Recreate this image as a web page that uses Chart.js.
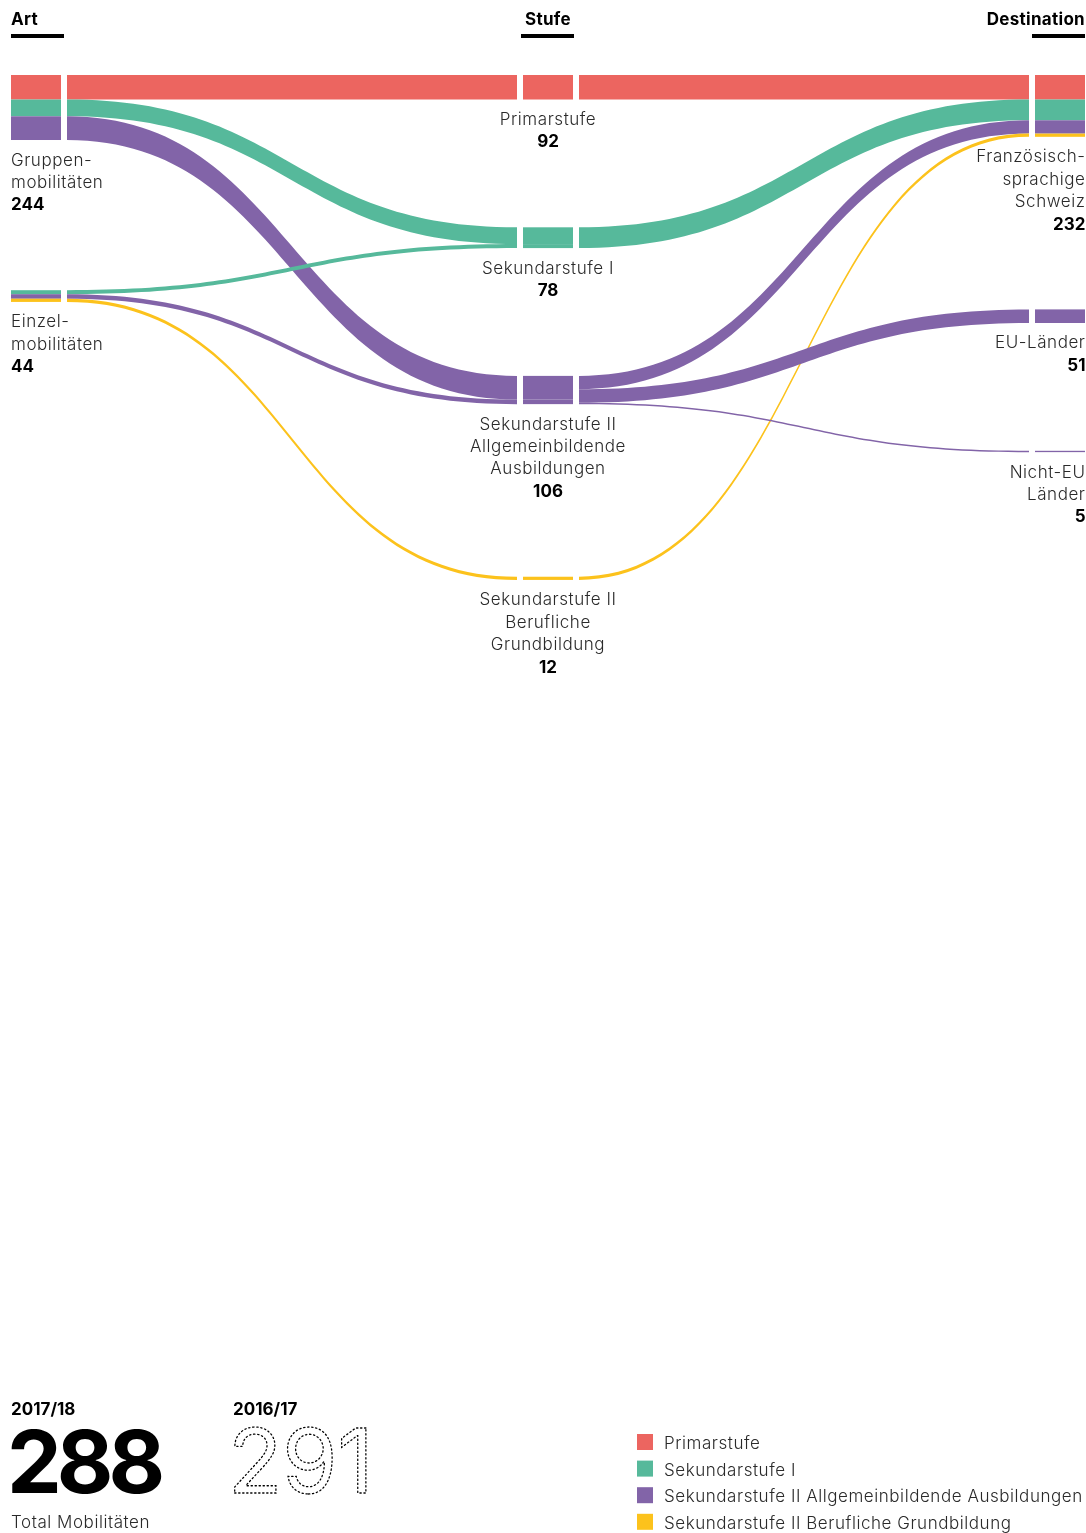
<!DOCTYPE html>
<html>
<head>
<meta charset="utf-8">
<script src="https://cdn.jsdelivr.net/npm/chart.js@4.4.1/dist/chart.umd.min.js"></script>
<style>
  body { margin: 0; background: #fff; }
  #page { position: relative; width: 1086px; height: 1533px; overflow: hidden; font-family: Inter, Roboto, sans-serif; }
  #sankey { position: absolute; left: 0; top: 75px; }
  #overlay { position: absolute; left: 0; top: 0; }
</style>
</head>
<body>
<div id="page">
  <canvas id="sankey" width="1086" height="625"></canvas>
  <svg id="overlay" width="1086" height="1533" xmlns="http://www.w3.org/2000/svg"></svg>
</div>
<script>
// node labels per column
var artNodes = ["Gruppen-\nmobilitäten", "Einzel-\nmobilitäten"];
var stufeNodes = ["Primarstufe", "Sekundarstufe I", "Sekundarstufe II\nAllgemeinbildende\nAusbildungen", "Sekundarstufe II\nBerufliche\nGrundbildung"];
var destNodes = ["Französisch-\nsprachige\nSchweiz", "EU-Länder", "Nicht-EU\nLänder"];
var columnTitles = ["Art", "Stufe", "Destination"];

// flows Art -> Stufe (one value per Stufe)
var gruppenFlows = [92, 63, 89, 0];
var einzelFlows = [0, 15, 17, 12];

// flows Stufe -> Destination (one value per Stufe)
var toFranzSchweiz = [92, 78, 50, 12];
var toEU = [0, 0, 51, 0];
var toNichtEU = [0, 0, 5, 0];

// totals
var years = ["2017/18", "2016/17"];
var totalMobilities = [288, 291];

var legendLabels = ["Primarstufe", "Sekundarstufe I", "Sekundarstufe II Allgemeinbildende Ausbildungen", "Sekundarstufe II Berufliche Grundbildung"];
var stufeColors = ["#ec6560", "#56b99b", "#8264a8", "#fcc21c"];

var FONT = "Inter";
var SPACING = "0.55px";

// build nodes and links
var nodes = [];
var links = [];
function addColumn(names, col) {
  return names.map(function (n, i) {
    var node = { col: col, name: n, index: i, inLinks: [], outLinks: [] };
    nodes.push(node);
    return node;
  });
}
var artCol = addColumn(artNodes, 0);
var stufeCol = addColumn(stufeNodes, 1);
var destCol = addColumn(destNodes, 2);

function link(src, tgt, value, color) {
  if (!value) return;
  var l = { source: src, target: tgt, value: value, color: color };
  links.push(l);
  src.outLinks.push(l);
  tgt.inLinks.push(l);
}
[gruppenFlows, einzelFlows].forEach(function (row, a) {
  row.forEach(function (v, s) { link(artCol[a], stufeCol[s], v, stufeColors[s]); });
});
[toFranzSchweiz, toEU, toNichtEU].forEach(function (row, d) {
  row.forEach(function (v, s) { link(stufeCol[s], destCol[d], v, stufeColors[s]); });
});
nodes.forEach(function (n) {
  var inSum = n.inLinks.reduce(function (a, l) { return a + l.value; }, 0);
  var outSum = n.outLinks.reduce(function (a, l) { return a + l.value; }, 0);
  n.value = Math.max(inSum, outSum);
  n.outLinks.sort(function (a, b) { return a.target.index - b.target.index; });
  n.inLinks.sort(function (a, b) { return a.source.index - b.source.index; });
});

var NODE_W = 50, LINK_GAP = 6, LINE_H = 22.4;

var sankeyPlugin = {
  id: "sankey",
  afterDatasetsDraw: function (chart) {
    var ctx = chart.ctx, x = chart.scales.x, y = chart.scales.y;
    var ppu = y.getPixelForValue(1) - y.getPixelForValue(0);

    // stack nodes in each column, gap depends on the label height
    [artCol, stufeCol, destCol].forEach(function (col) {
      var u = 0;
      col.forEach(function (n) {
        n.u0 = u;
        n.u1 = u + n.value;
        var lines = n.name.split("\n").length + 1;
        u = n.u1 + (83 + LINE_H * lines) / ppu;
        var off = n.u0;
        n.outLinks.forEach(function (l) { l.su0 = off; off += l.value; l.su1 = off; });
        off = n.u0;
        n.inLinks.forEach(function (l) { l.tu0 = off; off += l.value; l.tu1 = off; });
      });
    });

    ctx.save();
    // links
    links.forEach(function (l) {
      var x0 = x.getPixelForValue(l.source.col) + NODE_W + LINK_GAP;
      var x1 = x.getPixelForValue(l.target.col) - LINK_GAP;
      var xm = (x0 + x1) / 2;
      var s0 = y.getPixelForValue(l.su0), s1 = y.getPixelForValue(l.su1);
      var t0 = y.getPixelForValue(l.tu0), t1 = y.getPixelForValue(l.tu1);
      ctx.beginPath();
      ctx.moveTo(x0, s0);
      ctx.bezierCurveTo(xm, s0, xm, t0, x1, t0);
      ctx.lineTo(x1, t1);
      ctx.bezierCurveTo(xm, t1, xm, s1, x0, s1);
      ctx.closePath();
      ctx.fillStyle = l.color;
      ctx.fill();
    });

    // nodes, split by the colour of their flows
    nodes.forEach(function (n) {
      var left = x.getPixelForValue(n.col);
      var segs = n.col === 0 ? n.outLinks : n.inLinks;
      segs.forEach(function (l) {
        var a = n.col === 0 ? l.su0 : l.tu0, b = n.col === 0 ? l.su1 : l.tu1;
        ctx.fillStyle = l.color;
        ctx.fillRect(left, y.getPixelForValue(a), NODE_W, y.getPixelForValue(b) - y.getPixelForValue(a));
      });

      // label
      var lines = n.name.split("\n");
      var tx = n.col === 0 ? left : n.col === 1 ? left + NODE_W / 2 : left + NODE_W + 0.5;
      ctx.textAlign = n.col === 0 ? "left" : n.col === 1 ? "center" : "right";
      ctx.textBaseline = "alphabetic";
      var by = y.getPixelForValue(n.u1) + 25.5;
      ctx.fillStyle = "#2a2a2a";
      ctx.font = "300 17px " + FONT;
      ctx.letterSpacing = SPACING;
      lines.forEach(function (t, i) { ctx.fillText(t, tx, by + i * LINE_H); });
      ctx.fillStyle = "#000";
      ctx.font = "bold 17px " + FONT;
      ctx.letterSpacing = "0px";
      ctx.fillText(String(n.value), tx, by + lines.length * LINE_H);
    });
    ctx.restore();
  }
};

new Chart(document.getElementById("sankey"), {
  type: "scatter",
  data: { datasets: [] },
  options: {
    responsive: false,
    animation: false,
    layout: { padding: { left: 11, right: 51, top: 0, bottom: 0 } },
    plugins: { legend: { display: false }, tooltip: { enabled: false } },
    scales: {
      x: { type: "linear", min: 0, max: 2, display: false },
      y: { type: "linear", min: 0, max: 2346, reverse: true, display: false }
    }
  },
  plugins: [sankeyPlugin]
});

// headers, totals and legend
var svg = document.getElementById("overlay");
var NS = "http://www.w3.org/2000/svg";
function el(tag, attrs, text) {
  var e = document.createElementNS(NS, tag);
  for (var k in attrs) e.setAttribute(k, attrs[k]);
  if (text !== undefined) e.textContent = text;
  svg.appendChild(e);
  return e;
}
var headerX = [11, 548, 1085];
var anchors = ["start", "middle", "end"];
var barX = [11, 521, 1032];
columnTitles.forEach(function (t, i) {
  el("text", { x: headerX[i], y: 25, "font-size": 17, "font-weight": 700, "letter-spacing": "0.3", "text-anchor": anchors[i], fill: "#000" }, t);
  el("rect", { x: barX[i], y: 34, width: 53, height: 4, fill: "#000" });
});

el("text", { x: 7, y: 1493, "font-size": 87, "font-weight": 700, "letter-spacing": "-5" }, String(totalMobilities[0]));
el("text", { x: 11, y: 1415, "font-size": 17, "font-weight": 700 }, years[0]);
el("text", { x: 11, y: 1528, "font-size": 17, "font-weight": 300, "letter-spacing": SPACING, fill: "#2a2a2a" }, "Total Mobilitäten");
el("text", { x: 233, y: 1415, "font-size": 17, "font-weight": 700 }, years[1]);
el("text", { x: 228, y: 1493, "font-size": 89, "font-weight": 400, fill: "none", stroke: "#000",
  "stroke-width": 1.3, "stroke-dasharray": "1.3 2.7", "stroke-linecap": "round" }, String(totalMobilities[1]));

legendLabels.forEach(function (t, i) {
  var top = 1434 + i * 26.6;
  el("rect", { x: 637, y: top, width: 16, height: 16, fill: stufeColors[i] });
  el("text", { x: 664, y: top + 15, "font-size": 17, "font-weight": 300, "letter-spacing": SPACING, fill: "#2a2a2a" }, t);
});
</script>
</body>
</html>
